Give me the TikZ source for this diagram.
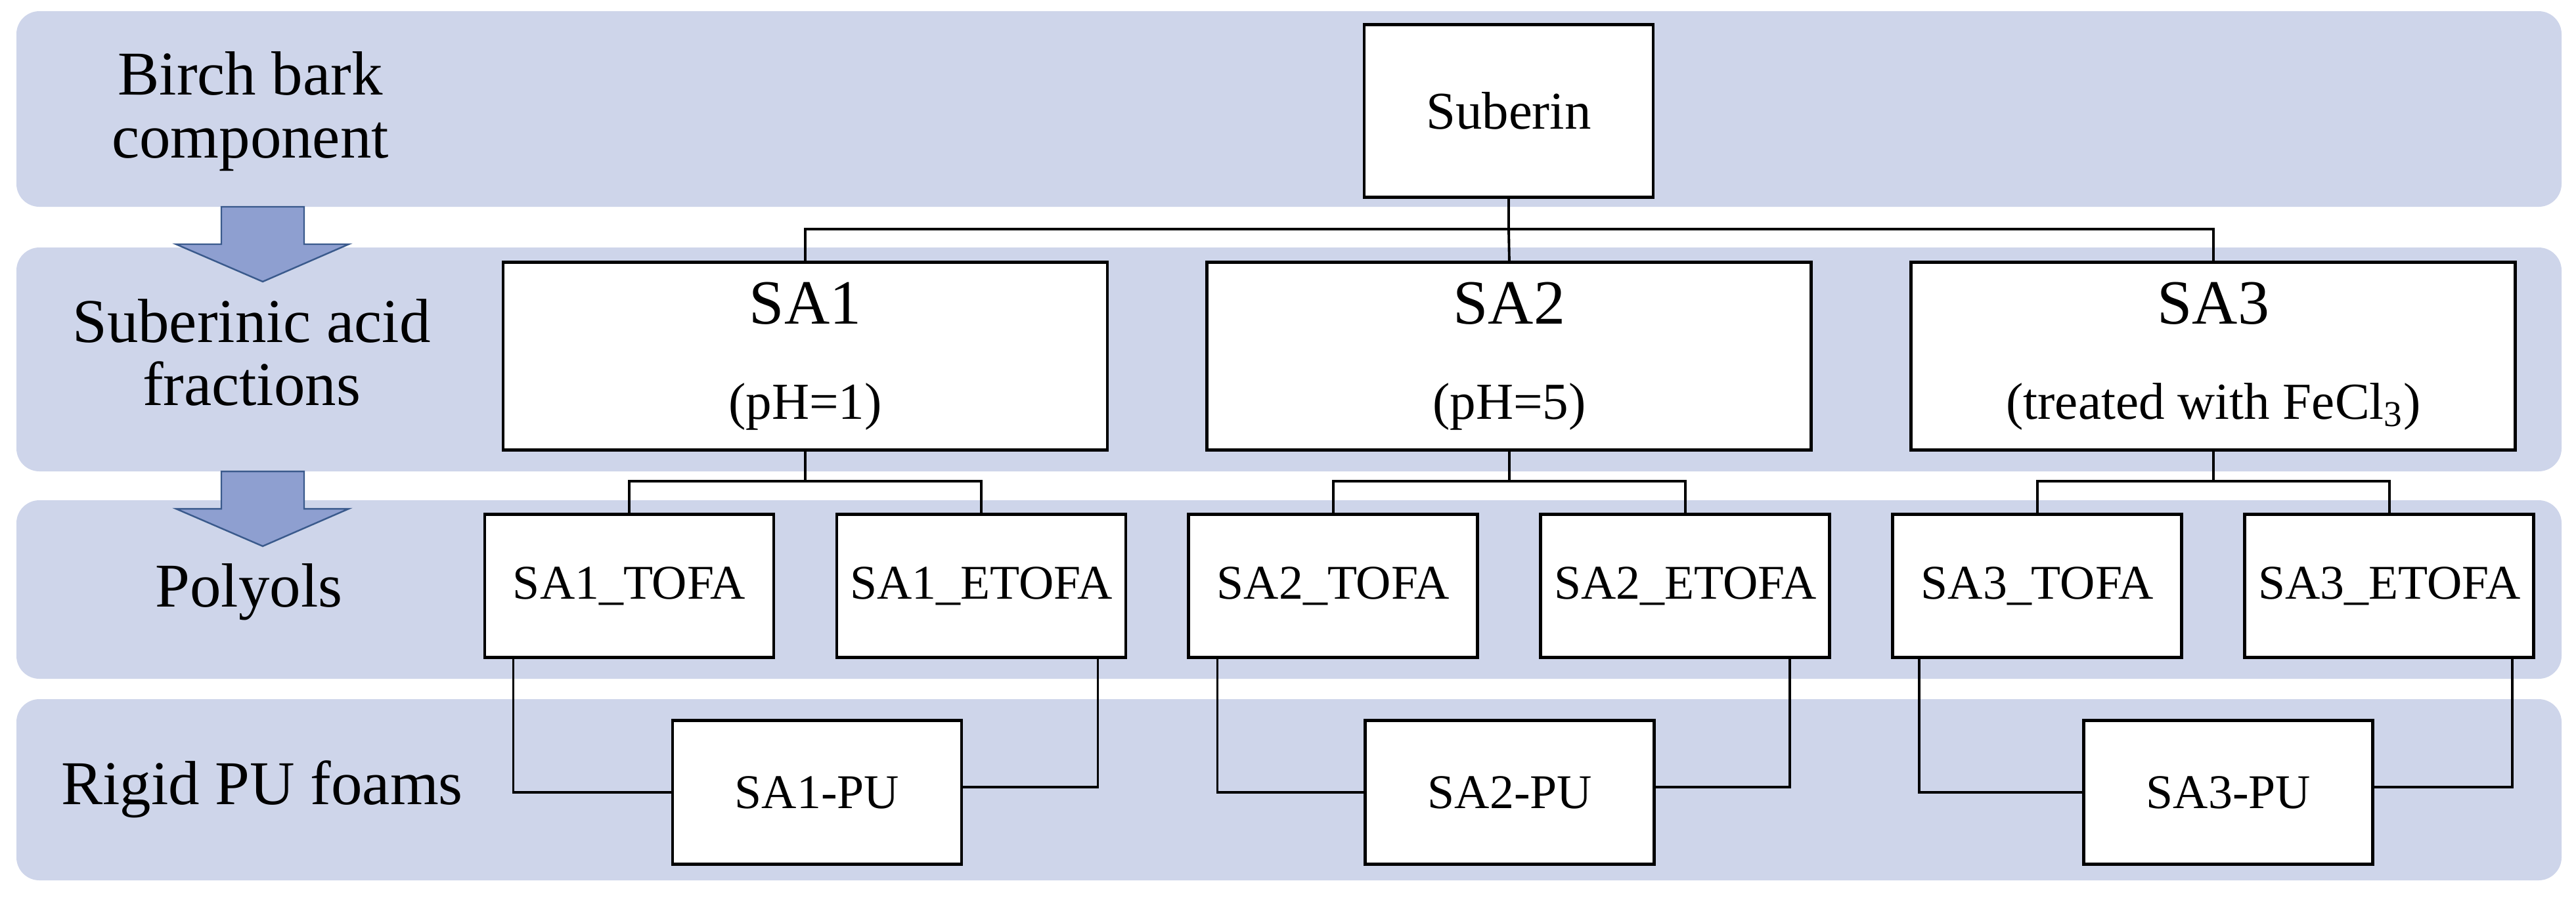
\documentclass[tikz,border=0pt]{standalone}
\usepackage{fontspec}
\setmainfont{Liberation Serif}
\usepackage{xcolor}
\usetikzlibrary{positioning}
\definecolor{band}{HTML}{CED5EA}
\definecolor{arrowfill}{HTML}{8E9FD0}
\definecolor{arrowline}{HTML}{3A5A8C}

\begin{document}
\begin{tikzpicture}[x=1cm,y=1cm,
      box/.style={draw=black,line width=1.4pt,fill=white,inner sep=0pt,align=center},
      sabox/.style={box,minimum width=9.2cm,minimum height=2.86cm,
                    font=\fontsize{22.5}{41.3}\selectfont},
      polbox/.style={box,minimum width=4.4cm,minimum height=2.18cm,
                     font=\fontsize{21}{25}\selectfont},
      lab/.style={align=center,font=\fontsize{27}{27.5}\selectfont},
      link/.style={line width=1.1pt}]
    \useasboundingbox (0,0) rectangle (39.22,-13.70);

    % the four bands
    \foreach \t/\b in {0.17/3.15,3.77/7.18,7.62/10.34,10.65/13.41}
      \fill[band,rounded corners=3.5mm] (0.25,-\t) rectangle (39.0,-\b);

    % block arrows between the bands
    \foreach \t in {3.15,7.18}
      \draw[arrowline,fill=arrowfill,line width=0.7pt]
        (3.37,-\t) -- (4.63,-\t) -- (4.63,-\t-0.57) -- (5.31,-\t-0.57)
        -- (4.0,-\t-1.14) -- (2.68,-\t-0.57) -- (3.37,-\t-0.57) -- cycle;

    % row labels
    \node[lab] (l1) at (3.81,-1.695) {Birch bark\\component};
    \node[lab] (l2) at (3.83,-5.37) {Suberinic acid\\fractions};
    \node[lab] (l3) at (3.79,-9.02) {Polyols};
    \node[lab] (l4) at (3.99,-12.02) {Rigid PU foams};

    % tree
    \node[box,minimum width=4.4cm,minimum height=2.63cm,
          font=\fontsize{23}{25}\selectfont] (sub) at (22.97,-1.69) {Suberin};
    \node[sabox] (sa1) at (12.26,-5.425) {{\fontsize{27.3}{41.3}\selectfont SA1}\\(pH=1)};
    \node[sabox,right=14.7mm of sa1] (sa2) {{\fontsize{27.3}{41.3}\selectfont SA2}\\(pH=5)};
    \node[sabox,right=14.7mm of sa2] (sa3) {{\fontsize{27.3}{41.3}\selectfont SA3}\\(treated with FeCl\textsubscript{3})};

    \draw[link] (sub.south) -- ++(0,-0.46) coordinate (j0) -| (sa1.north);
    \draw[link] (j0) -| (sa3.north);
    \draw[link] (j0) -- (sa2.north);

    \foreach \i/\d in {1/1.8,2/0.1,3/2.3} {
      \node[polbox,below=9.3mm of sa\i,xshift=-26.8mm] (tofa\i) {SA\i\_TOFA};
      \node[polbox,below=9.3mm of sa\i,xshift=26.8mm] (etofa\i) {SA\i\_ETOFA};
      \node[polbox,minimum height=2.19cm,below=40.7mm of sa\i,xshift=\d mm] (pu\i) {SA\i-PU};
      \draw[link] (sa\i.south) -- ++(0,-0.45) coordinate (k\i) -| (tofa\i.north);
      \draw[link] (k\i) -| (etofa\i.north);
    }

    \foreach \i/\l/\r in {1/4.6/4.5,2/4.6/6.3,3/4.3/3.5} {
      \draw[link] ([xshift=\l mm]tofa\i.south west) |- (pu\i.west);
      \draw[link] ([xshift=-\r mm]etofa\i.south east) |- ([yshift=0.8mm]pu\i.east);
    }
  \end{tikzpicture}
\end{document}
